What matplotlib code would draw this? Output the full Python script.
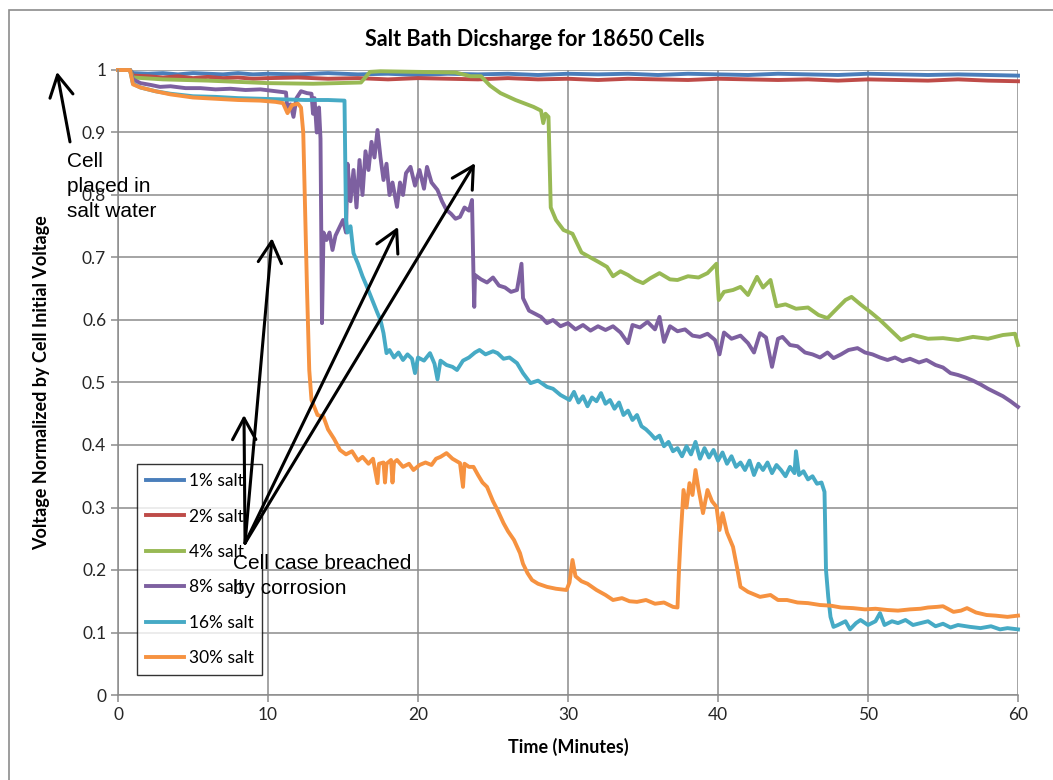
import matplotlib
matplotlib.use('Agg')
import matplotlib.pyplot as plt
from matplotlib.patches import Rectangle
from matplotlib.ticker import FixedLocator, FormatStrFormatter

# Series (time in minutes, voltage normalized)
t_1pct = [0, 0.8, 1.0, 2, 3, 4, 5, 6, 7, 8, 9, 10, 12, 14, 16, 18, 20, 22, 24, 26, 28,
          30, 32, 34, 36, 38, 40, 42, 44, 46, 48, 50, 52, 54, 56, 58, 60]
v_1pct = [1.0, 1.0, 0.995, 0.994, 0.995, 0.993, 0.995, 0.994, 0.993, 0.995, 0.993, 0.994,
          0.993, 0.995, 0.993, 0.994, 0.992, 0.994, 0.993, 0.994, 0.992, 0.994, 0.993,
          0.994, 0.992, 0.994, 0.993, 0.992, 0.994, 0.993, 0.992, 0.994, 0.993, 0.992,
          0.993, 0.992, 0.991]

t_2pct = [0, 0.8, 1.0, 2, 3, 4, 5, 6, 7, 8, 9, 10, 12, 14, 16, 18, 20, 22, 24, 26, 28,
          30, 32, 34, 36, 38, 40, 42, 44, 46, 48, 50, 52, 54, 56, 58, 60]
v_2pct = [1.0, 1.0, 0.991, 0.990, 0.988, 0.990, 0.987, 0.989, 0.987, 0.988, 0.986, 0.987,
          0.988, 0.986, 0.987, 0.985, 0.987, 0.986, 0.985, 0.987, 0.985, 0.986, 0.984,
          0.986, 0.985, 0.984, 0.986, 0.985, 0.984, 0.985, 0.983, 0.985, 0.984, 0.983,
          0.985, 0.983, 0.982]

t_4pct = [0, 0.8, 1.0, 3, 6, 10, 13, 16.2, 16.8, 17.5, 20, 22.5, 23.5, 24.2, 24.8, 25.5,
          26.5, 27.7, 28.2, 28.35, 28.5, 28.7, 28.85, 29.2, 29.7, 30.3, 30.9, 31.5, 32.1,
          32.6, 33.0, 33.5, 34.0, 34.5, 35.0, 35.5, 36.1, 36.8, 37.3, 38.0, 38.7, 39.3,
          39.9, 40.05, 40.4, 41.0, 41.5, 42.0, 42.6, 43.0, 43.5, 43.9, 44.5, 45.2, 46.0,
          46.7, 47.3, 48.0, 48.5, 48.9, 49.5, 50.2, 50.8, 51.5, 52.2, 53.0, 54.0, 55.0,
          56.0, 57.0, 58.0, 59.0, 59.8, 60]
v_4pct = [1.0, 1.0, 0.988, 0.985, 0.983, 0.979, 0.978, 0.980, 0.997, 0.998, 0.997, 0.996,
          0.990, 0.990, 0.975, 0.963, 0.952, 0.941, 0.935, 0.915, 0.930, 0.925, 0.780,
          0.760, 0.744, 0.738, 0.708, 0.700, 0.692, 0.685, 0.670, 0.678, 0.672, 0.664,
          0.659, 0.667, 0.675, 0.665, 0.664, 0.670, 0.668, 0.675, 0.690, 0.632, 0.645,
          0.648, 0.653, 0.640, 0.669, 0.652, 0.664, 0.622, 0.625, 0.618, 0.620, 0.608,
          0.603, 0.620, 0.632, 0.637, 0.625, 0.612, 0.600, 0.584, 0.568, 0.576, 0.570,
          0.571, 0.568, 0.573, 0.570, 0.576, 0.578, 0.560]

t_8pct = [0, 0.8, 1.0, 1.5, 2.2, 2.8, 3.5, 4.5, 5.5, 6.5, 7.5, 8.5, 9.5, 10.5, 11.2, 11.3,
          11.5, 11.7, 11.9, 12.2, 12.6, 12.9, 13.0, 13.1, 13.25, 13.4, 13.5, 13.6, 13.7,
          13.9, 14.1, 14.3, 14.5, 14.7, 15.0, 15.2, 15.3, 15.5, 15.7, 15.9, 16.1, 16.3,
          16.5, 16.7, 16.9, 17.1, 17.3, 17.5, 17.7, 17.9, 18.1, 18.3, 18.6, 18.8, 19.0,
          19.2, 19.5, 19.8, 20.1, 20.4, 20.6, 20.9, 21.3, 21.6, 21.9, 22.2, 22.5, 22.8,
          23.1, 23.4, 23.6, 23.7, 23.75, 23.8, 24.2, 24.6, 25.0, 25.4, 25.8, 26.2, 26.6,
          26.9, 27.0, 27.4, 27.8, 28.2, 28.6, 29.0, 29.5, 30.0, 30.5, 31.0, 31.5, 32.0,
          32.5, 33.0, 33.5, 34.0, 34.3, 34.8, 35.3, 35.8, 36.1, 36.4, 36.8, 37.3, 37.8,
          38.3, 38.8, 39.3, 39.8, 40.1, 40.4, 40.9, 41.5, 42.0, 42.4, 42.8, 43.2, 43.6,
          44.0, 44.3, 44.8, 45.3, 45.8, 46.3, 46.8, 47.3, 47.7, 48.2, 48.7, 49.3, 49.8,
          50.3, 50.8, 51.3, 51.8, 52.3, 52.8, 53.4, 53.9, 54.5, 55.0, 55.5, 56.0, 56.5,
          57.0, 57.5, 58.0, 58.5, 59.0, 59.5, 60]
v_8pct = [1.0, 1.0, 0.985, 0.979, 0.976, 0.973, 0.974, 0.971, 0.971, 0.969, 0.970, 0.968,
          0.969, 0.966, 0.964, 0.935, 0.945, 0.925, 0.955, 0.966, 0.963, 0.962, 0.930,
          0.955, 0.900, 0.940, 0.890, 0.595, 0.740, 0.728, 0.740, 0.712, 0.735, 0.745,
          0.760, 0.740, 0.850, 0.790, 0.840, 0.780, 0.856, 0.800, 0.870, 0.840, 0.885,
          0.860, 0.904, 0.860, 0.824, 0.850, 0.800, 0.820, 0.781, 0.820, 0.800, 0.835,
          0.845, 0.815, 0.840, 0.810, 0.845, 0.820, 0.808, 0.790, 0.776, 0.770, 0.762,
          0.765, 0.780, 0.775, 0.792, 0.670, 0.621, 0.672, 0.665, 0.660, 0.668, 0.655,
          0.652, 0.645, 0.648, 0.690, 0.635, 0.615, 0.610, 0.605, 0.595, 0.600, 0.590,
          0.595, 0.585, 0.592, 0.583, 0.590, 0.584, 0.590, 0.580, 0.563, 0.592, 0.588,
          0.597, 0.585, 0.605, 0.565, 0.590, 0.582, 0.585, 0.575, 0.573, 0.578, 0.568,
          0.545, 0.580, 0.570, 0.575, 0.563, 0.548, 0.579, 0.572, 0.525, 0.570, 0.573,
          0.560, 0.558, 0.548, 0.545, 0.540, 0.548, 0.539, 0.545, 0.552, 0.555, 0.548,
          0.545, 0.540, 0.536, 0.540, 0.534, 0.538, 0.532, 0.536, 0.528, 0.524, 0.515,
          0.512, 0.508, 0.503, 0.497, 0.490, 0.484, 0.478, 0.470, 0.461]

t_16pct = [0, 0.8, 1.0, 1.5, 2.5, 3.5, 5, 6.5, 8, 9.5, 11, 12.5, 14, 15.1, 15.2, 15.3,
           15.5, 15.7, 16.0, 16.3, 16.6, 16.9, 17.3, 17.5, 17.7, 17.9, 18.1, 18.4, 18.7,
           19.0, 19.3, 19.6, 19.8, 20.0, 20.4, 20.8, 21.1, 21.3, 21.5, 21.9, 22.3, 22.6,
           23.0, 23.4, 23.8, 24.1, 24.5, 25.0, 25.3, 25.7, 26.1, 26.6, 27.0, 27.5, 28.0,
           28.6, 29.0, 29.5, 30.1, 30.4, 30.7, 31.0, 31.3, 31.6, 31.9, 32.2, 32.5, 32.8,
           33.1, 33.4, 33.7, 34.0, 34.3, 34.6, 34.9, 35.2, 35.5, 35.8, 36.1, 36.4, 36.7,
           37.0, 37.3, 37.6, 37.9, 38.2, 38.5, 38.8, 39.1, 39.4, 39.7, 40.0, 40.3, 40.6,
           40.9, 41.2, 41.5, 41.8, 42.1, 42.4, 42.7, 43.0, 43.3, 43.6, 43.9, 44.2, 44.5,
           44.8, 45.1, 45.2, 45.4, 45.7, 46.0, 46.3, 46.6, 46.9, 47.1, 47.2, 47.35,
           47.5, 47.7, 48.0, 48.5, 48.8, 49.2, 49.5, 50.0, 50.5, 50.8, 51.1, 51.6, 52.0,
           52.5, 53.0, 53.5, 54.0, 54.5, 55.0, 55.5, 56.0, 56.8, 57.5, 58.2, 58.8, 59.3, 60]
v_16pct = [1.0, 1.0, 0.978, 0.972, 0.966, 0.962, 0.958, 0.957, 0.955, 0.954, 0.953, 0.952,
           0.952, 0.951, 0.760, 0.740, 0.750, 0.707, 0.690, 0.670, 0.653, 0.635, 0.611,
           0.600, 0.579, 0.547, 0.552, 0.540, 0.548, 0.536, 0.545, 0.538, 0.515, 0.540,
           0.535, 0.547, 0.530, 0.505, 0.535, 0.528, 0.525, 0.520, 0.535, 0.540, 0.548,
           0.552, 0.545, 0.550, 0.547, 0.538, 0.540, 0.531, 0.515, 0.499, 0.503, 0.493,
           0.490, 0.480, 0.472, 0.485, 0.468, 0.478, 0.462, 0.476, 0.470, 0.483, 0.466,
           0.472, 0.458, 0.468, 0.448, 0.455, 0.440, 0.448, 0.430, 0.425, 0.418, 0.410,
           0.415, 0.398, 0.405, 0.390, 0.395, 0.382, 0.398, 0.385, 0.405, 0.378, 0.395,
           0.380, 0.392, 0.375, 0.388, 0.370, 0.382, 0.365, 0.372, 0.360, 0.375, 0.352,
           0.370, 0.360, 0.372, 0.355, 0.368, 0.360, 0.350, 0.365, 0.355, 0.390, 0.352,
           0.358, 0.345, 0.350, 0.338, 0.340, 0.325, 0.200, 0.157, 0.125, 0.109, 0.112,
           0.118, 0.105, 0.115, 0.120, 0.112, 0.118, 0.131, 0.112, 0.118, 0.115, 0.120,
           0.112, 0.115, 0.118, 0.110, 0.114, 0.108, 0.112, 0.109, 0.107, 0.110, 0.105,
           0.107, 0.105]

t_30pct = [0, 0.8, 1.0, 1.5, 2.5, 3.5, 5, 6.5, 8, 9.5, 10.5, 11.0, 11.3, 11.6, 12.0, 12.2,
           12.35, 12.45, 12.6, 12.75, 12.9, 13.1, 13.3, 13.7, 14.0, 14.4, 14.8, 15.2, 15.6,
           16.0, 16.3, 16.7, 17.0, 17.3, 17.4, 17.7, 17.8, 17.9, 18.2, 18.3, 18.4, 18.6,
           19.0, 19.4, 19.7, 20.1, 20.5, 20.9, 21.2, 21.5, 21.9, 22.3, 22.8, 23.0, 23.1,
           23.4, 23.7, 24.0, 24.3, 24.6, 25.0, 25.3, 25.7, 26.0, 26.4, 26.8, 27.0, 27.3,
           27.6, 28.0, 28.6, 29.2, 29.9, 30.1, 30.3, 30.5, 30.9, 31.3, 31.9, 32.5, 33.0,
           33.6, 34.1, 34.6, 35.2, 35.8, 36.4, 37.0, 37.3, 37.4, 37.5, 37.7, 37.9, 38.1,
           38.3, 38.5, 38.7, 39.0, 39.3, 39.6, 39.9, 40.1, 40.3, 40.6, 41.0, 41.3, 41.5,
           42.0, 42.8, 43.5, 44.0, 44.6, 45.3, 46.0, 46.8, 47.5, 48.2, 49.0, 49.8, 50.5,
           51.3, 52.0, 52.8, 53.5, 54.0, 54.6, 55.0, 55.7, 56.2, 56.6, 57.2, 57.9, 58.5,
           59.3, 60]
v_30pct = [1.0, 1.0, 0.977, 0.972, 0.966, 0.961, 0.956, 0.954, 0.952, 0.951, 0.949, 0.947,
           0.931, 0.944, 0.946, 0.940, 0.900, 0.800, 0.650, 0.520, 0.472, 0.460, 0.448,
           0.445, 0.425, 0.410, 0.392, 0.385, 0.390, 0.375, 0.381, 0.370, 0.378, 0.339,
           0.370, 0.372, 0.340, 0.370, 0.376, 0.340, 0.372, 0.376, 0.365, 0.370, 0.360,
           0.368, 0.372, 0.368, 0.378, 0.381, 0.387, 0.378, 0.371, 0.333, 0.370, 0.365,
           0.365, 0.352, 0.340, 0.333, 0.310, 0.296, 0.275, 0.262, 0.248, 0.227, 0.210,
           0.195, 0.184, 0.178, 0.173, 0.170, 0.168, 0.180, 0.216, 0.190, 0.182, 0.178,
           0.168, 0.160, 0.152, 0.155, 0.150, 0.149, 0.152, 0.146, 0.148, 0.141, 0.140,
           0.200, 0.248, 0.328, 0.300, 0.339, 0.320, 0.360, 0.330, 0.291, 0.328, 0.310,
           0.301, 0.264, 0.291, 0.260, 0.237, 0.200, 0.173, 0.165, 0.157, 0.160, 0.152,
           0.152, 0.148, 0.147, 0.144, 0.143, 0.140, 0.139, 0.137, 0.138, 0.136, 0.135,
           0.137, 0.138, 0.140, 0.141, 0.142, 0.133, 0.135, 0.139, 0.132, 0.128, 0.127,
           0.125, 0.127]

series = [
    ('1% salt', t_1pct, v_1pct, '#4a7ebb'),
    ('2% salt', t_2pct, v_2pct, '#be4b48'),
    ('4% salt', t_4pct, v_4pct, '#98b954'),
    ('8% salt', t_8pct, v_8pct, '#7d60a0'),
    ('16% salt', t_16pct, v_16pct, '#46aac5'),
    ('30% salt', t_30pct, v_30pct, '#f69240'),
]

x_ticks = [0, 10, 20, 30, 40, 50, 60]
y_ticks = [0, 0.1, 0.2, 0.3, 0.4, 0.5, 0.6, 0.7, 0.8, 0.9, 1.0]

excel_font = 'Lato'
note_font = 'Liberation Sans'
grid_col = '#8c8c8c'

fig = plt.figure(figsize=(10.53, 7.8), dpi=100)
ax = fig.add_axes([118 / 1053, 85 / 780, 900 / 1053, 625 / 780])

# outer chart border (Excel chart area)
fig.add_artist(Rectangle((9 / 1053, -0.1), 1.2, 1.1 - 10 / 780, transform=fig.transFigure,
                         fill=False, edgecolor='#8c8c8c', lw=1.2))

for label, t, v, col in series:
    ax.plot(t, v, color=col, lw=2.8, label=label, solid_joinstyle='round', clip_on=False)

ax.set_xlim(0, 60)
ax.set_ylim(0, 1)
ax.xaxis.set_major_locator(FixedLocator(x_ticks))
ax.yaxis.set_major_locator(FixedLocator(y_ticks))
ax.yaxis.set_major_formatter(FormatStrFormatter('%g'))
ax.grid(True, color=grid_col, lw=1.1)
ax.set_axisbelow(True)
for s in ['top', 'right']:
    ax.spines[s].set_visible(False)
for s in ['left', 'bottom']:
    ax.spines[s].set_color(grid_col)
    ax.spines[s].set_linewidth(1.1)
ax.tick_params(length=5, width=1.1, color=grid_col, labelsize=12.5, labelcolor='#262626')
for lab in ax.get_xticklabels() + ax.get_yticklabels():
    lab.set_fontfamily(excel_font)

# Excel centres the title on the whole chart area, not the plot area
fig.text(535 / 1053, 1 - 40 / 780, 'Salt Bath Dicsharge for 18650 Cells', fontsize=15.5,
         fontweight='bold', family=excel_font, ha='center', va='center')
ax.set_xlabel('Time (Minutes)', fontsize=13, fontweight='bold', family=excel_font, labelpad=11)
ax.set_ylabel('Voltage Normalized by Cell Initial Voltage', fontsize=13, fontweight='bold',
              family=excel_font, labelpad=23)

leg = ax.legend(loc='lower left', bbox_to_anchor=(0.021, 0.032), borderaxespad=0,
                prop={'family': excel_font, 'size': 12.5}, frameon=True, fancybox=False,
                handlelength=2.2, labelspacing=1.12, borderpad=0.5, handletextpad=0.28)
leg.get_frame().set_edgecolor('black')
leg.get_frame().set_linewidth(1.0)
for line in leg.get_lines():
    line.set_linewidth(2.8)

# annotations (drawn above the legend)
arrow = dict(arrowstyle='->,head_length=0.55,head_width=0.3', lw=2.2, color='black',
             mutation_scale=28, shrinkA=0, shrinkB=0)
ax.annotate('', xy=(-4.07, 0.997), xytext=(-3.2, 0.885), arrowprops=arrow,
            annotation_clip=False, zorder=10)
ax.text(-3.4, 0.868, 'Cell\nplaced in\nsalt water', fontsize=15, family=note_font,
        va='top', ha='left', linespacing=1.4, zorder=10)

breach_tail = (8.47, 0.243)
for head in [(8.4, 0.448), (10.27, 0.731), (18.67, 0.749), (23.8, 0.851)]:
    ax.annotate('', xy=head, xytext=breach_tail, arrowprops=arrow, zorder=10)
ax.text(7.67, 0.226, 'Cell case breached\nby corrosion', fontsize=15, family=note_font,
        va='top', ha='left', linespacing=1.4, zorder=10)

fig.savefig('out.png', dpi=100)
